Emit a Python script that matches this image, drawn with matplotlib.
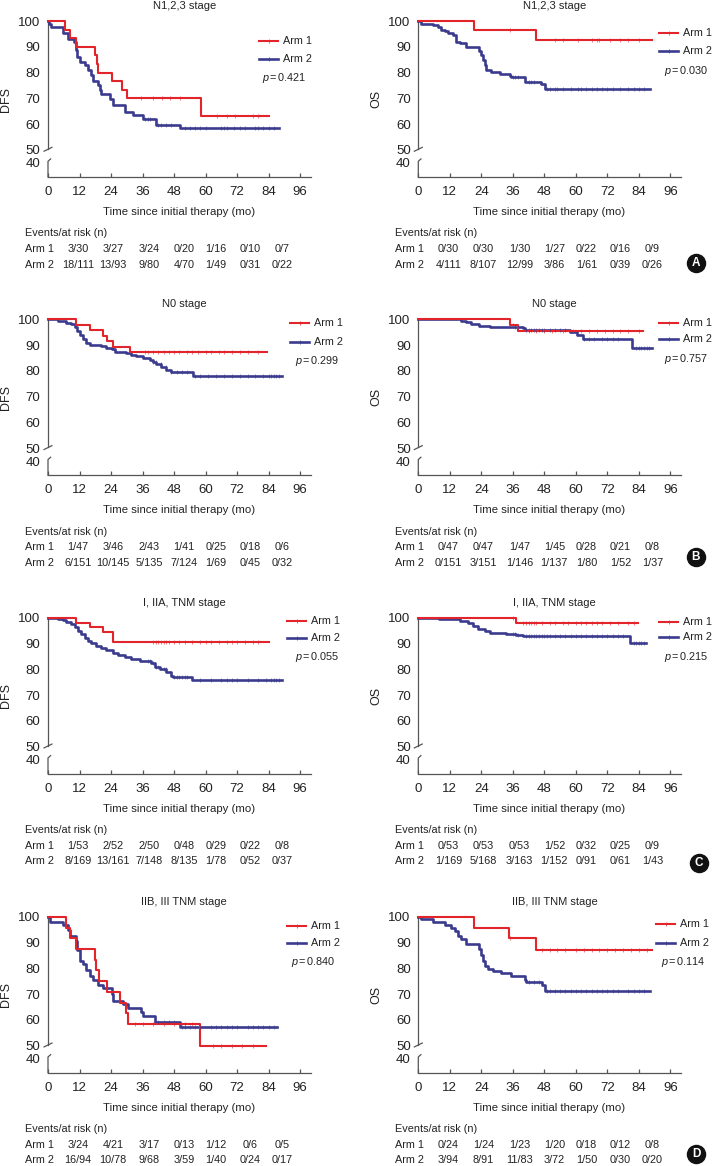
import numpy as np
import matplotlib.pyplot as plt

plt.rcParams['font.family'] = ['Liberation Sans', 'DejaVu Sans']
plt.rcParams['mathtext.fontset'] = 'custom'
plt.rcParams['mathtext.rm'] = 'Liberation Sans'
plt.rcParams['mathtext.it'] = 'Liberation Sans:italic'

# ---- data -------------------------------------------------------------
titles = ['N1,2,3 stage', 'N0 stage', 'I, IIA, TNM stage', 'IIB, III TNM stage']
letters = ['A', 'B', 'C', 'D']
dfs_p = ['0.421', '0.299', '0.055', '0.840']
os_p = ['0.030', '0.757', '0.215', '0.114']
arm_names = ['Arm 1', 'Arm 2']

# A: N1,2,3 stage
a_dfs1_t = [0, 6.6, 8.3, 10.5, 18.0, 18.5, 19.0, 24.2, 28.0, 30.0, 58.2, 84.3]
a_dfs1_s = [100, 96.7, 93.3, 90.0, 86.7, 83.3, 80.0, 76.7, 73.3, 70.0, 63.3, 63.3]
a_dfs1_c = [35.6, 40, 43.6, 46.4, 50.2, 64.2, 68, 71.2, 78.2, 80.1]
a_dfs2_t = [0, 0.5, 1.3, 5.7, 7.6, 9.8, 10.5, 11.0, 12.1, 14.0, 15.3, 16.5, 17.2, 19.1,
            19.7, 20.3, 23.5, 24.8, 29.2, 32.4, 36.2, 41.3, 50.2, 88.1]
a_dfs2_s = [100, 99.0, 97.5, 95.2, 92.9, 92.0, 88.8, 86.2, 84.2, 83.0, 81.0, 79.0, 76.9, 75.2,
            73.3, 71.7, 69.6, 67.4, 64.9, 63.6, 61.9, 59.7, 58.4, 58.4]
a_dfs2_c = [37, 38, 39, 42, 43, 45, 47, 52, 54, 56, 58, 60, 66, 67, 68, 71, 73, 75, 79, 80, 82, 84, 86]
a_os1_t = [0, 21.2, 45.0, 89.0]
a_os1_s = [100, 96.7, 92.6, 92.6]
a_os1_c = [35, 52, 55, 61, 66, 68, 69, 73, 77, 80, 84]
a_os2_t = [0, 1.0, 5.5, 7.4, 8.7, 10.0, 11.2, 13.1, 14.4, 15.7, 18.2, 23.3, 24.0, 24.6,
           25.3, 25.9, 27.8, 31.0, 34.8, 35.5, 40.6, 46.9, 48.2, 88.1]
a_os2_s = [100, 99.0, 98.3, 97.5, 96.5, 96.0, 95.2, 94.5, 92.0, 91.3, 90.0, 88.5, 87.0, 85.0,
           83.0, 81.0, 80.2, 79.5, 78.8, 78.3, 76.5, 75.5, 73.6, 73.6]
a_os2_c = [36, 37, 38, 42, 43, 44, 49, 50, 52, 53, 55, 58, 61, 62, 64, 66, 68, 70, 72, 74, 77, 80, 82, 84, 86]

# B: N0 stage
b_dfs1_t = [0, 10.8, 16.1, 21.0, 22.5, 24.8, 31.2, 83.3]
b_dfs1_s = [100, 97.9, 95.7, 93.6, 91.5, 89.4, 87.3, 87.3]
b_dfs1_c = [37, 38, 40, 42, 44, 46, 48, 50, 53, 55, 57, 60, 62, 65, 67, 70, 73, 76, 80]
b_dfs2_t = [0, 3.8, 7.0, 8.9, 10.2, 11.2, 12.0, 13.3, 14.6, 15.9, 20.3, 22.2, 24.2, 25.4,
            29.9, 31.8, 33.7, 36.2, 38.8, 40.0, 41.3, 43.2, 45.1, 47.0, 55.3, 89.0]
b_dfs2_s = [100, 99.5, 98.7, 98.0, 97.0, 95.5, 94.0, 92.5, 91.0, 90.2, 89.6, 89.0, 88.3, 87.5,
            86.8, 86.3, 85.8, 85.0, 84.3, 83.5, 82.7, 81.5, 80.5, 79.6, 78.0, 78.0]
b_dfs2_c = [40, 41, 43, 45, 47, 49, 51, 53, 56, 58, 61, 64, 67, 70, 73, 76, 79, 82, 84, 85, 86, 87, 88]
b_os1_t = [0, 34.8, 38.0, 85.6]
b_os1_s = [100, 97.9, 95.4, 95.4]
b_os1_c = [36, 42, 45, 48, 51, 55, 59, 62, 65, 68, 71, 74, 77, 80, 84]
b_os2_t = [0, 16.3, 18.2, 20.2, 23.3, 27.2, 40.0, 40.6, 57.8, 60.3, 62.9, 81.4, 89.0]
b_os2_s = [100, 99.5, 99.0, 98.3, 97.5, 97.0, 96.5, 96.0, 95.0, 94.0, 92.3, 88.7, 88.7]
b_os2_c = [37, 38, 41, 42, 43, 44, 45, 46, 47, 48, 50, 52, 54, 56, 63, 65, 67, 70, 72, 74, 76,
           83, 84, 85, 86, 87, 88]

# C: I, IIA stage
c_dfs1_t = [0, 10.8, 16.1, 21.0, 24.8, 84.3]
c_dfs1_s = [100, 98.1, 96.2, 94.3, 90.4, 90.4]
c_dfs1_c = [40, 41, 42, 43, 44, 45, 46, 48, 50, 52, 55, 58, 60, 62, 65, 68, 70, 72, 75, 78, 80]
c_dfs2_t = [0, 3.8, 5.7, 7.0, 8.9, 10.2, 11.4, 12.7, 14.0, 15.3, 16.5, 18.4, 20.3, 22.2,
            24.8, 26.7, 29.2, 31.8, 35.0, 39.4, 40.7, 42.6, 45.1, 47.0, 47.7, 54.7, 89.0]
c_dfs2_s = [100, 99.6, 99.0, 98.3, 97.5, 96.5, 95.0, 93.5, 92.0, 91.0, 90.0, 89.2, 88.3, 87.5,
            86.5, 85.6, 84.8, 84.0, 83.4, 82.5, 81.0, 80.0, 79.0, 77.5, 77.0, 75.9, 75.9]
c_dfs2_c = [38, 39, 40, 41, 42, 44, 45, 48, 49, 50, 51, 52, 53, 58, 62, 66, 68, 70, 72, 76,
            80, 83, 85, 86, 87, 88]
c_os1_t = [0, 37.1, 83.7]
c_os1_s = [100, 97.9, 97.9]
c_os1_c = [36, 40, 41, 42, 43, 44, 45, 47, 50, 52, 55, 57, 60, 62, 64, 66, 68, 70, 73, 76, 80, 82]
c_os2_t = [0, 8.0, 15.7, 18.9, 20.8, 22.7, 25.3, 27.2, 33.5, 37.4, 39.9, 80.7, 86.9]
c_os2_s = [100, 99.4, 98.8, 98.0, 96.8, 95.6, 94.8, 94.2, 93.7, 93.3, 93.0, 90.2, 90.2]
c_os2_c = [36, 37, 38, 41, 42, 43, 44, 45, 46, 47, 48, 49, 50, 52, 54, 56, 58, 60, 62, 64, 66,
           68, 70, 72, 74, 76, 78, 82, 83, 84, 85, 86]

# D: IIB, III stage
d_dfs1_t = [0, 6.7, 8.3, 10.5, 18.0, 18.4, 19.3, 22.3, 27.6, 29.6, 30.5, 57.9, 82.9]
d_dfs1_s = [100, 95.8, 91.7, 87.5, 83.3, 79.2, 75.0, 70.8, 66.7, 62.5, 58.3, 50.0, 50.0]
d_dfs1_c = [33, 36, 40, 44, 48, 52, 55, 63, 66, 70, 74, 78]
d_dfs2_t = [0, 0.9, 5.7, 7.6, 8.5, 10.8, 11.2, 12.0, 13.3, 14.6, 15.9, 17.2, 19.1, 21.0,
            24.2, 24.8, 28.6, 30.5, 35.6, 36.2, 40.7, 50.2, 87.4]
d_dfs2_s = [100, 97.9, 96.8, 94.7, 92.6, 90.4, 87.0, 83.0, 81.5, 79.5, 77.0, 75.5, 73.5, 72.3,
            70.0, 67.3, 66.0, 64.7, 63.0, 61.3, 59.3, 57.4, 57.4]
d_dfs2_c = [42, 44, 46, 48, 51, 52, 54, 56, 58, 62, 64, 66, 68, 70, 72, 76, 78, 80, 82, 84, 86]
d_os1_t = [0, 21.2, 34.6, 45.0, 89.0]
d_os1_s = [100, 95.8, 91.7, 87.0, 87.0]
d_os1_c = [35, 47, 50, 53, 56, 60, 63, 66, 69, 72, 75, 78, 81, 84, 87]
d_os2_t = [0, 1.0, 5.5, 10.0, 12.5, 13.8, 15.0, 16.3, 18.2, 23.3, 24.0, 24.6, 25.3, 26.5,
           28.4, 31.6, 35.5, 40.6, 41.2, 47.0, 48.2, 88.1]
d_os2_s = [100, 99.0, 97.9, 96.8, 95.7, 94.5, 92.5, 91.5, 89.3, 87.5, 85.0, 83.0, 81.0, 79.8,
           79.0, 78.0, 77.0, 75.5, 74.5, 73.5, 71.0, 71.0]
d_os2_c = [42, 44, 46, 49, 50, 52, 54, 56, 58, 60, 62, 64, 66, 68, 70, 72, 74, 76, 80, 82, 84, 86]

# events / at risk tables
a_dfs_r1 = ['3/30', '3/27', '3/24', '0/20', '1/16', '0/10', '0/7']
a_dfs_r2 = ['18/111', '13/93', '9/80', '4/70', '1/49', '0/31', '0/22']
a_os_r1 = ['0/30', '0/30', '1/30', '1/27', '0/22', '0/16', '0/9']
a_os_r2 = ['4/111', '8/107', '12/99', '3/86', '1/61', '0/39', '0/26']
b_dfs_r1 = ['1/47', '3/46', '2/43', '1/41', '0/25', '0/18', '0/6']
b_dfs_r2 = ['6/151', '10/145', '5/135', '7/124', '1/69', '0/45', '0/32']
b_os_r1 = ['0/47', '0/47', '1/47', '1/45', '0/28', '0/21', '0/8']
b_os_r2 = ['0/151', '3/151', '1/146', '1/137', '1/80', '1/52', '1/37']
c_dfs_r1 = ['1/53', '2/52', '2/50', '0/48', '0/29', '0/22', '0/8']
c_dfs_r2 = ['8/169', '13/161', '7/148', '8/135', '1/78', '0/52', '0/37']
c_os_r1 = ['0/53', '0/53', '0/53', '1/52', '0/32', '0/25', '0/9']
c_os_r2 = ['1/169', '5/168', '3/163', '1/152', '0/91', '0/61', '1/43']
d_dfs_r1 = ['3/24', '4/21', '3/17', '0/13', '1/12', '0/6', '0/5']
d_dfs_r2 = ['16/94', '10/78', '9/68', '3/59', '1/40', '0/24', '0/17']
d_os_r1 = ['0/24', '1/24', '1/23', '1/20', '0/18', '0/12', '0/8']
d_os_r2 = ['3/94', '8/91', '11/83', '3/72', '1/50', '0/30', '0/20']

# ---- layout -----------------------------------------------------------
W, H = 712, 1166
RED = '#e2242b'
BLUE = '#3a3a8e'
AXC = '#555555'
TXT = '#222222'

row_top = [21, 319.3, 617.7, 916.7]
col_left = [48, 418.3]
ax_w, ax_h = 262.5, 156
risk_cols = [30, 65, 101, 136, 168, 202, 234]
# legend: line x start, arm1 y, arm2 y, p y, p right edge (pixels)
leg_pos = [(259, 41, 59, 78, 306), (659, 33, 51, 71, 708),
           (290, 323, 342, 361, 339), (659, 323, 339, 359, 708),
           (287, 621, 638, 657, 339), (659, 622, 637, 657, 708),
           (287, 926, 943, 962, 335), (656, 924, 943, 962, 706)]
badge_pos = [(696, 263), (696, 557), (699, 863), (696, 1154)]

fig = plt.figure(figsize=(W / 100, H / 100), dpi=100)


def fx(x):
    return x / W


def fy(y):
    return 1 - y / H


def km(ax, t, s, c, color, lw):
    t = np.asarray(t)
    s = np.asarray(s)
    ax.step(t, s, where='post', color=color, lw=lw, clip_on=False, zorder=3)
    c = np.asarray(c)
    idx = np.searchsorted(t, c, side='right') - 1
    ax.plot(c, s[idx], ls='none', marker='|', ms=2.6, mew=0.5, color=color,
            alpha=0.8, clip_on=False, zorder=4)


curves = [
    [(a_dfs1_t, a_dfs1_s, a_dfs1_c), (a_dfs2_t, a_dfs2_s, a_dfs2_c)],
    [(a_os1_t, a_os1_s, a_os1_c), (a_os2_t, a_os2_s, a_os2_c)],
    [(b_dfs1_t, b_dfs1_s, b_dfs1_c), (b_dfs2_t, b_dfs2_s, b_dfs2_c)],
    [(b_os1_t, b_os1_s, b_os1_c), (b_os2_t, b_os2_s, b_os2_c)],
    [(c_dfs1_t, c_dfs1_s, c_dfs1_c), (c_dfs2_t, c_dfs2_s, c_dfs2_c)],
    [(c_os1_t, c_os1_s, c_os1_c), (c_os2_t, c_os2_s, c_os2_c)],
    [(d_dfs1_t, d_dfs1_s, d_dfs1_c), (d_dfs2_t, d_dfs2_s, d_dfs2_c)],
    [(d_os1_t, d_os1_s, d_os1_c), (d_os2_t, d_os2_s, d_os2_c)],
]
risks = [(a_dfs_r1, a_dfs_r2), (a_os_r1, a_os_r2), (b_dfs_r1, b_dfs_r2), (b_os_r1, b_os_r2),
         (c_dfs_r1, c_dfs_r2), (c_os_r1, c_os_r2), (d_dfs_r1, d_dfs_r2), (d_os_r1, d_os_r2)]

for i in range(8):
    row, col = i // 2, i % 2
    left = col_left[col]
    top = row_top[row]
    bottom = top + ax_h
    ax = fig.add_axes([fx(left), fy(bottom), ax_w / W, ax_h / H])
    ax.set_xlim(0, 100)
    ax.set_ylim(39.5, 100)
    ax.set_xticks(range(0, 97, 12))
    ax.set_yticks([100, 90, 80, 70, 60, 50, 45])
    ax.set_yticklabels(['100', '90', '80', '70', '60', '50', '40'])
    for sp in ['top', 'right', 'left']:
        ax.spines[sp].set_visible(False)
    ax.spines['bottom'].set_color(AXC)
    ax.spines['bottom'].set_linewidth(0.9)
    ax.tick_params(axis='x', direction='in', length=2.8, width=0.9, color=AXC,
                   pad=6.5, labelsize=9.5, labelcolor=TXT)
    ax.tick_params(axis='y', length=0, pad=5.5, labelsize=9.5, labelcolor=TXT)
    # broken y axis
    ax.plot([0, 0], [100, 50.3], color=AXC, lw=0.9, clip_on=False)
    ax.plot([1.5, -1.5], [51.0, 49.5], color=AXC, lw=0.9, clip_on=False)
    ax.plot([0, 0, 1.0], [39.5, 45.6, 46.5], color=AXC, lw=0.9, clip_on=False)

    (t1, s1, c1), (t2, s2, c2) = curves[i]
    km(ax, t2, s2, c2, BLUE, 1.9)
    km(ax, t1, s1, c1, RED, 1.5)

    cx = left + ax_w / 2
    fig.text(fx(cx + 5), fy(top - 15), titles[row], ha='center', va='center',
             fontsize=8, color=TXT)
    fig.text(fx(left - 42), fy(top + ax_h / 2), 'DFS' if col == 0 else 'OS',
             rotation=90, ha='center', va='center', fontsize=9, color=TXT)
    fig.text(fx(cx), fy(bottom + 35), 'Time since initial therapy (mo)',
             ha='center', va='center', fontsize=8.2, color=TXT)

    # legend
    lx, y1, y2, py, pr = leg_pos[i]
    for yy, colr, lw, name in [(y1, RED, 1.5, arm_names[0]), (y2, BLUE, 1.9, arm_names[1])]:
        fig.add_artist(plt.Line2D([fx(lx), fx(lx + 19)], [fy(yy), fy(yy)],
                                  color=colr, lw=lw, transform=fig.transFigure))
        fig.add_artist(plt.Line2D([fx(lx + 9.5)], [fy(yy)], marker='|', ms=2.6, mew=0.5,
                                  color=colr, transform=fig.transFigure))
        fig.text(fx(lx + 24), fy(yy), name, ha='left', va='center', fontsize=7.8,
                 color=TXT)
    pv = dfs_p[row] if col == 0 else os_p[row]
    fig.text(fx(pr), fy(py), r'$p\,$=$\,$' + pv, ha='right', va='center', fontsize=7.8,
             color=TXT)

    # events / at risk table
    r1, r2 = risks[i]
    fig.text(fx(left - 23), fy(bottom + 56.5), 'Events/at risk (n)', ha='left',
             va='center', fontsize=7.8, color=TXT)
    for yy, name, vals in [(bottom + 72, arm_names[0], r1), (bottom + 87.5, arm_names[1], r2)]:
        fig.text(fx(left - 23), fy(yy), name, ha='left', va='center', fontsize=7.8,
                 color=TXT)
        for cxo, v in zip(risk_cols, vals):
            fig.text(fx(left + cxo), fy(yy), v, ha='center', va='center', fontsize=7.8,
                     color=TXT)

# panel letters
for (bx, by), let in zip(badge_pos, letters):
    fig.add_artist(plt.Line2D([fx(bx)], [fy(by)], marker='o', ms=13, color='#111111',
                              transform=fig.transFigure))
    fig.text(fx(bx), fy(by), let, ha='center', va='center', fontsize=8.5,
             fontweight='bold', color='white')

fig.savefig('out.png', dpi=100)
